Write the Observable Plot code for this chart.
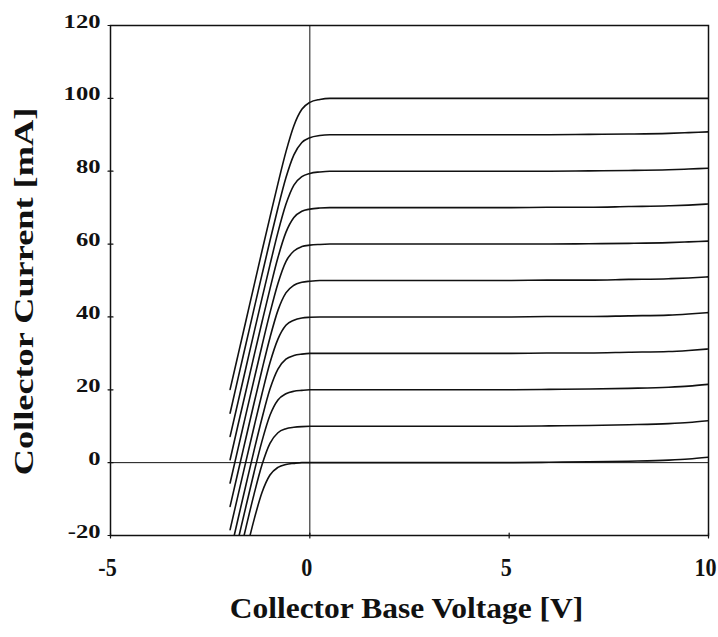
<!DOCTYPE html>
<html><head><meta charset="utf-8">
<script src="https://cdn.jsdelivr.net/npm/d3@7"></script>
<script src="https://cdn.jsdelivr.net/npm/@observablehq/plot@0.6"></script>
<style>
html,body{margin:0;padding:0;background:#fff;}
#chart svg{display:block;}
</style>
</head><body><div id="chart"></div>
<script>
// Collector base voltage grid [V]
const voltage = [-2.0,-1.8,-1.6,-1.4,-1.2,-1.0,-0.8,-0.6,-0.4,-0.2,0,0.25,0.5,1,3,5,6,7,8,9,9.5,10];
// Collector current [mA] for each curve
const ic100 = [20.1,29.6,39.1,48.6,58.1,67.4,76.6,85.3,92.5,97.0,98.9,99.7,100,100,100,100,100,100,100,100,100,100];
const ic90  = [13.6,23.2,32.7,42.2,51.6,60.9,69.9,78.2,84.5,87.9,89.2,89.8,90,90,90,90,90,90.1,90.2,90.4,90.6,90.8];
const ic80  = [7.2,16.7,26.2,35.7,45.1,54.3,63.2,70.9,76.2,78.5,79.4,79.8,80,80,80,80,80,80.1,80.2,80.4,80.6,80.8];
const ic70  = [0.8,10.4,19.8,29.3,38.6,47.7,56.3,63.2,67.3,69.0,69.6,69.9,70,70,70,70,70.1,70.1,70.3,70.5,70.7,71.0];
const ic60  = [-5.6,3.9,13.4,22.8,32.1,41.1,49.2,55.2,58.1,59.3,59.7,59.9,60,60,60,60,60,60.1,60.2,60.4,60.6,60.8];
const ic50  = [-12.0,-2.5,6.9,16.3,25.5,34.3,41.8,46.6,48.7,49.5,49.8,50,50,50,50,50,50.1,50.1,50.3,50.5,50.7,51.0];
const ic40  = [-18.4,-8.9,0.5,9.8,18.9,27.4,33.9,37.7,39.1,39.7,39.9,40,40,40,40,40,40.1,40.1,40.3,40.5,40.8,41.2];
const ic30  = [-24.9,-15.4,-6.0,3.3,12.2,20.2,25.7,28.4,29.4,29.8,30,30,30,30,30,30,30.1,30.1,30.3,30.5,30.8,31.2];
const ic20  = [-30.6,-21.2,-11.9,-2.7,5.9,13.0,17.2,18.9,19.6,19.85,20,20,20,20,20,20,20.1,20.2,20.4,20.7,21.0,21.5];
const ic10  = [-36.4,-27.0,-17.7,-8.7,-0.6,5.3,8.2,9.3,9.7,9.9,10,10,10,10,10,10,10.1,10.2,10.4,10.7,11.0,11.5];
const ic0   = [-43.1,-33.7,-24.5,-15.7,-8.2,-3.4,-1.3,-0.5,-0.2,0,0,0,0,0,0,0,0.1,0.2,0.4,0.7,1.0,1.5];
const seriesNames = ["0","10","20","30","40","50","60","70","80","90","100"];
const xTicks = [-5,0,5,10];
const yTicks = [-20,0,20,40,60,80,100,120];
const xTitle = "Collector Base Voltage [V]";
const yTitle = "Collector Current [mA]";

const curves = [ic0, ic10, ic20, ic30, ic40, ic50, ic60, ic70, ic80, ic90, ic100];
const rows = curves.flatMap((c, k) => c.map((i, j) => ({v: voltage[j], i, s: seriesNames[k]})));

const tickShape = {draw(ctx, l) { ctx.moveTo(0, 0); ctx.lineTo(0, -l); }};
const ink = "#111";

const plot = Plot.plot({
  width: 718, height: 637,
  marginLeft: 110, marginRight: 10, marginTop: 25, marginBottom: 102,
  x: {domain: [-5, 10], axis: null},
  y: {domain: [-20, 120], axis: null},
  style: {background: "#fff", fontFamily: "'Liberation Serif', 'Times New Roman', serif", color: ink},
  marks: [
    Plot.ruleY([0], {stroke: ink, strokeWidth: 1}),
    Plot.ruleX([0], {stroke: ink, strokeWidth: 1}),
    Plot.line(rows, {x: "v", y: "i", z: "s", curve: "monotone-x", stroke: ink, strokeWidth: 1.6, clip: true}),
    Plot.vector(yTicks, {y: d => d, frameAnchor: "left", length: 5, rotate: 90, shape: tickShape, stroke: ink, strokeWidth: 1.2}),
    Plot.vector(xTicks, {x: d => d, frameAnchor: "bottom", length: 5, rotate: 0, shape: tickShape, stroke: ink, strokeWidth: 1.2}),
    Plot.frame({stroke: ink, strokeWidth: 1.5}),
    Plot.text(yTicks, {y: d => d, text: d => String(d), frameAnchor: "left", textAnchor: "end", lineAnchor: "bottom", dx: -10, dy: 2, fontSize: 18.5, fontWeight: "bold", fill: ink}),
    Plot.text(xTicks, {x: d => d, text: d => String(d), frameAnchor: "bottom", textAnchor: "middle", lineAnchor: "bottom", dx: -3, dy: 40, fontSize: 26, fontWeight: "bold", fill: ink}),
    Plot.text([xTitle], {text: d => d, frameAnchor: "bottom", textAnchor: "middle", lineAnchor: "bottom", dx: -3, dy: 82, fontSize: 30, fontWeight: "bold", fill: ink}),
    Plot.text([yTitle], {text: d => d, frameAnchor: "left", textAnchor: "middle", lineAnchor: "bottom", rotate: -90, dx: -78, dy: 11, fontSize: 26.5, fontWeight: "bold", fill: ink})
  ]
});

// horizontal stretch of the label glyphs, as in the reference scan
const stretchBySize = {"18.5": 1.33, "26": 0.85, "30": 1.05, "26.5": 1.37};
plot.querySelectorAll("text").forEach(el => {
  const g = el.closest("[font-size]");
  if (!g) return;
  const key = String(parseFloat(g.getAttribute("font-size")));
  const sx = stretchBySize[key];
  if (!sx) return;
  const t = el.getAttribute("transform") || "";
  el.setAttribute("transform", t + ` scale(${sx},1)`);
});

document.getElementById("chart").appendChild(plot);
</script>
</body></html>
